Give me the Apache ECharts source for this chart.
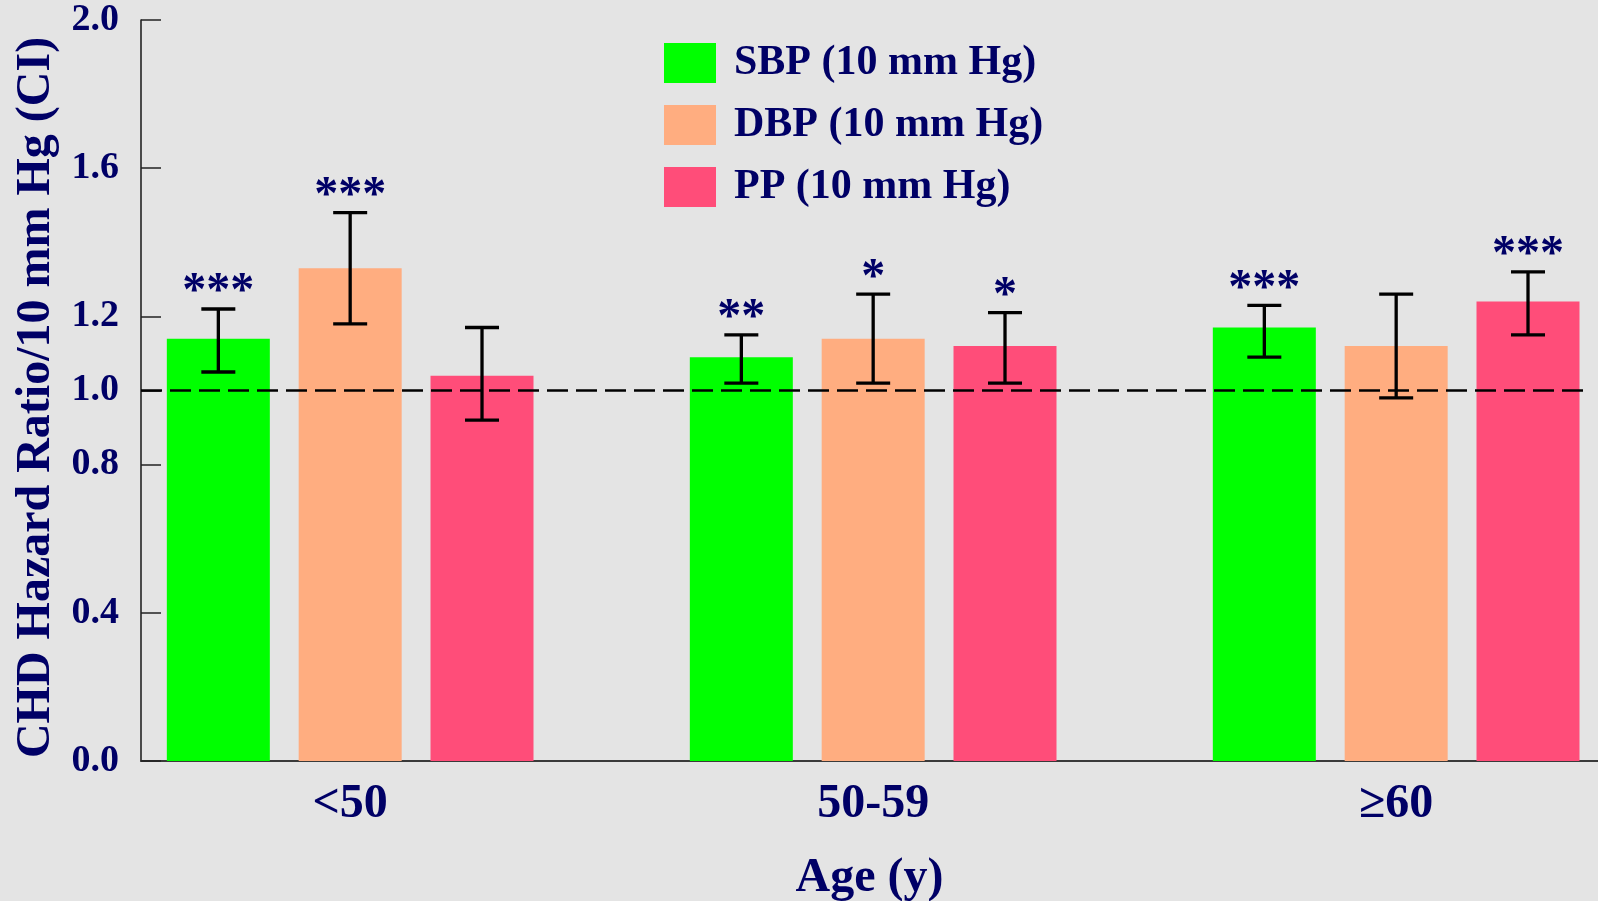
<!DOCTYPE html>
<html>
<head>
<meta charset="utf-8">
<script src="https://cdn.jsdelivr.net/npm/echarts@6/dist/echarts.min.js"></script>
<style>
html,body{margin:0;padding:0;background:#e4e4e4;}
#chart{width:1598px;height:901px;}
</style>
</head>
<body>
<div id="chart"></div>
<script>
// ---- data ----
const categories = ['<50', '50-59', '\u226560'];
const seriesNames = ['SBP (10 mm Hg)', 'DBP (10 mm Hg)', 'PP (10 mm Hg)'];
const sbp = [1.14, 1.09, 1.17];
const sbpLow = [1.05, 1.02, 1.09];
const sbpHigh = [1.22, 1.15, 1.23];
const dbp = [1.33, 1.14, 1.12];
const dbpLow = [1.18, 1.02, 0.98];
const dbpHigh = [1.48, 1.26, 1.26];
const pp = [1.04, 1.12, 1.24];
const ppLow = [0.92, 1.02, 1.15];
const ppHigh = [1.17, 1.21, 1.32];
const sbpStars = ['***', '**', '***'];
const dbpStars = ['***', '*', ''];
const ppStars = ['', '*', '***'];
const yTicks = [0, 0.4, 0.8, 1.0, 1.2, 1.6, 2.0];
const refValue = 1.0;

// ---- style ----
const navy = '#000066';
const serif = '"Liberation Serif", "Times New Roman", serif';
const colors = ['#00ff00', '#ffad80', '#ff4d79'];
const barWidth = 103;
const barGapRatio = 0.28;
const barPitch = barWidth * (1 + barGapRatio);

const values = [sbp, dbp, pp];
const lows = [sbpLow, dbpLow, ppLow];
const highs = [sbpHigh, dbpHigh, ppHigh];
const stars = [sbpStars, dbpStars, ppStars];

const chart = echarts.init(document.getElementById('chart'));

const barSeries = values.map((v, k) => ({
  name: seriesNames[k],
  type: 'bar',
  xAxisIndex: 0, yAxisIndex: 0,
  data: v,
  barWidth: barWidth,
  barGap: (barGapRatio * 100) + '%',
  itemStyle: { color: colors[k] },
  z: 2
}));

const errSeries = values.map((v, k) => ({
  name: seriesNames[k] + ' CI',
  type: 'custom',
  xAxisIndex: 0, yAxisIndex: 0,
  z: 5,
  silent: true,
  data: categories.map((c, i) => [i, lows[k][i], highs[k][i]]),
  renderItem: function (params, api) {
    const idx = api.value(0);
    const pLo = api.coord([idx, api.value(1)]);
    const pHi = api.coord([idx, api.value(2)]);
    const x = pLo[0] + (k - 1) * barPitch;
    const half = 17;
    const ls = { stroke: '#000', lineWidth: 3.3 };
    const st = stars[k][params.dataIndex];
    const children = [
      { type: 'line', shape: { x1: x, y1: pLo[1], x2: x, y2: pHi[1] }, style: ls },
      { type: 'line', shape: { x1: x - half, y1: pHi[1], x2: x + half, y2: pHi[1] }, style: ls },
      { type: 'line', shape: { x1: x - half, y1: pLo[1], x2: x + half, y2: pLo[1] }, style: ls }
    ];
    if (st) {
      children.push({
        type: 'text',
        style: {
          text: st, x: x, y: pHi[1] - 16,
          align: 'center', verticalAlign: 'middle',
          font: 'bold 48px ' + serif, fill: navy
        }
      });
    }
    return { type: 'group', children: children };
  }
}));

const refSeries = {
  name: 'ref',
  type: 'custom',
  xAxisIndex: 1, yAxisIndex: 1,
  z: 4,
  silent: true,
  data: [[0, refValue]],
  renderItem: function (params, api) {
    const a = api.coord([0, api.value(1)]);
    const b = api.coord([0.99, api.value(1)]);
    return {
      type: 'line',
      shape: { x1: a[0], y1: a[1], x2: b[0], y2: b[1] },
      style: { stroke: '#000', lineWidth: 2.6, lineDash: [21, 8] }
    };
  }
};

const option = {
  backgroundColor: '#e4e4e4',
  animation: false,
  legend: {
    data: seriesNames,
    orient: 'vertical',
    left: 659, top: 37,
    itemWidth: 52, itemHeight: 40, itemGap: 20,
    icon: 'rect',
    selectedMode: false,
    textStyle: { fontFamily: serif, fontWeight: 'bold', fontSize: 42, color: navy, padding: [0, 0, 0, 13] }
  },
  grid: [
    { left: 88.67, width: 1569, top: 20, bottom: 140, outerBoundsMode: 'none', containLabel: false },
    { left: 141, right: 0, top: 20, bottom: 140, outerBoundsMode: 'none', containLabel: false }
  ],
  xAxis: [
    {
      type: 'category', gridIndex: 0, data: categories,
      axisLine: { show: false }, axisTick: { show: false },
      axisLabel: { fontFamily: serif, fontWeight: 'bold', fontSize: 48, color: navy, margin: 20 }
    },
    {
      type: 'value', gridIndex: 1, min: 0, max: 1,
      axisLine: { show: true, lineStyle: { color: '#3a3a3a', width: 2.2 } },
      axisTick: { show: false }, axisLabel: { show: false }, splitLine: { show: false },
      name: 'Age (y)', nameLocation: 'middle', nameGap: 94,
      nameTextStyle: { fontFamily: serif, fontWeight: 'bold', fontSize: 48, color: navy }
    }
  ],
  yAxis: [
    { type: 'value', gridIndex: 0, min: 0, max: 2, show: false, splitLine: { show: false } },
    {
      type: 'value', gridIndex: 1, min: 0, max: 2,
      axisLine: { show: true, lineStyle: { color: '#222', width: 1.6 } },
      axisTick: { show: true, inside: true, length: 20, customValues: yTicks, lineStyle: { color: '#222', width: 1.5 } },
      axisLabel: {
        customValues: yTicks, margin: 22,
        formatter: v => v.toFixed(1),
        fontFamily: serif, fontWeight: 'bold', fontSize: 38, color: navy
      },
      splitLine: { show: false },
      name: 'CHD Hazard Ratio/10 mm Hg (CI)', nameLocation: 'middle', nameGap: 80,
      nameTextStyle: { fontFamily: serif, fontWeight: 'bold', fontSize: 48, color: navy, padding: [0, 14, 0, 0] }
    }
  ],
  series: [...barSeries, refSeries, ...errSeries]
};
chart.setOption(option);
</script>
</body>
</html>
